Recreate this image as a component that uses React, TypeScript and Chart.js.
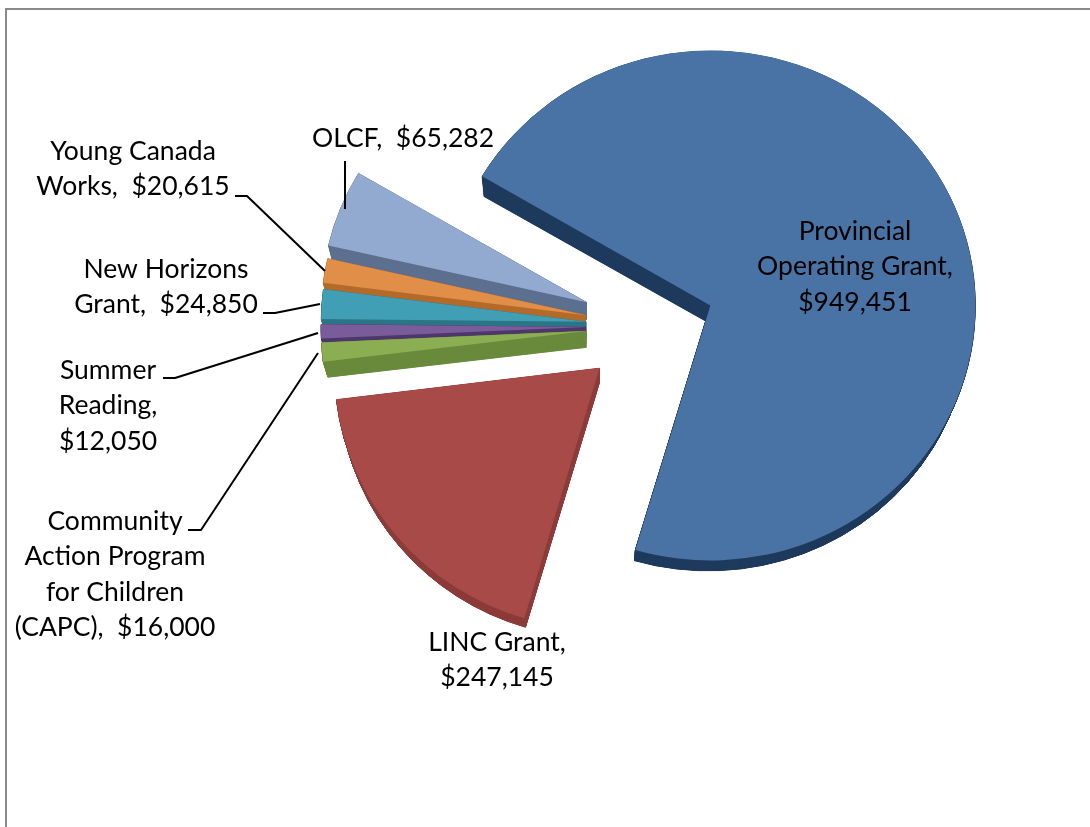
import React, { useEffect, useRef } from "react";
import { Chart, registerables } from "chart.js";

Chart.register(...registerables);

const categories = [
  "Provincial Operating Grant",
  "LINC Grant",
  "Community Action Program for Children (CAPC)",
  "Summer Reading",
  "New Horizons Grant",
  "Young Canada Works",
  "OLCF",
];
const amounts = [949451, 247145, 16000, 12050, 24850, 20615, 65282];
const faceColors = ["#4A73A5", "#A84B48", "#8BAE52", "#7A5C9A", "#419FB5", "#E08E48", "#93AAD0"];
const wallColors = ["#1F3B5E", "#8C3C3A", "#6A8A3C", "#4F376E", "#2B7687", "#B46B2A", "#5D7090"];

// How far each slice is pulled out of the pie, in pixels.
const explodeDistances = [66, 65, 63, 63, 63, 64, 67];

// Vertical foreshortening per slice and the line it pivots on: nearer slices look taller.
const sliceTilts = [0.962, 0.985, 0.96, 0.96, 0.96, 0.96, 0.96];
const tiltPivots = [400, 368.6, 326, 326, 326, 326, 326];

// Painted back to front so nearer slices cover the side walls of those behind them.
const paintOrder = [0, 6, 5, 4, 3, 2, 1];

const labelLines = [
  ["Provincial", "Operating Grant,", "$949,451"],
  ["LINC Grant,", "$247,145"],
  ["Community", "Action Program", "for Children", "(CAPC),  $16,000"],
  ["Summer", "Reading,", "$12,050"],
  ["New Horizons", "Grant,  $24,850"],
  ["Young Canada", "Works,  $20,615"],
  ["OLCF,  $65,282"],
];
const labelCentres = [
  [855, 231],
  [497, 642],
  [115, 521],
  [108, 370],
  [166, 269],
  [133, 151],
  [403, 138],
];
const leaderLines = [
  [[188, 530], [201, 530], [318, 353]],
  [[163, 378], [175, 378], [318, 333]],
  [[263, 313], [275, 313], [320, 304]],
  [[235, 196], [247, 196], [325, 271]],
  [[345, 161], [345, 209]],
];

const PIE_RADIUS = 265;
const DEPTH_LAYERS = 60;
const LABEL_FONT = '26.5px Lato, "Open Sans", sans-serif';
const LINE_HEIGHT = 35.5;

function tracePie(ctx: CanvasRenderingContext2D, arc: any) {
  const mid = (arc.startAngle + arc.endAngle) / 2;
  const shift = (arc.options.offset || 0) / 4;
  const cx = arc.x + Math.cos(mid) * shift;
  const cy = arc.y + Math.sin(mid) * shift;
  ctx.beginPath();
  ctx.moveTo(cx, cy);
  ctx.arc(cx, cy, arc.outerRadius, arc.startAngle, arc.endAngle);
  ctx.closePath();
}

// Squashes a slice vertically so the pie reads as lying slightly tilted.
function applyTilt(ctx: CanvasRenderingContext2D, i: number) {
  ctx.translate(0, tiltPivots[i]);
  ctx.scale(1, sliceTilts[i]);
  ctx.translate(0, -tiltPivots[i]);
}

// Side walls shrink toward a vanishing point below the pie.
function applyDepth(ctx: CanvasRenderingContext2D, t: number) {
  const vx = 590;
  const vy = 960;
  ctx.translate(vx, vy);
  ctx.scale(1 - 0.018 * t, 1 - 0.026 * t);
  ctx.translate(-vx, -vy);
}

const pie3d = {
  id: "pie3d",
  beforeDatasetsDraw(chart: any) {
    const { ctx } = chart;
    const arcs = chart.getDatasetMeta(0).data;
    for (const i of paintOrder) {
      const arc = arcs[i];
      ctx.fillStyle = wallColors[i];
      ctx.strokeStyle = wallColors[i];
      ctx.lineWidth = 0.8;
      ctx.lineJoin = "round";
      for (let layer = DEPTH_LAYERS; layer > 0; layer--) {
        ctx.save();
        applyDepth(ctx, layer / DEPTH_LAYERS);
        applyTilt(ctx, i);
        tracePie(ctx, arc);
        ctx.fill();
        ctx.stroke();
        ctx.restore();
      }
      ctx.save();
      applyTilt(ctx, i);
      tracePie(ctx, arc);
      ctx.fillStyle = arc.options.backgroundColor;
      ctx.fill();
      ctx.restore();
    }
    return false;
  },
  afterDraw(chart: any) {
    const { ctx } = chart;
    ctx.save();
    ctx.strokeStyle = "#000";
    ctx.lineWidth = 2;
    for (const line of leaderLines) {
      ctx.beginPath();
      line.forEach(([x, y], k) => (k ? ctx.lineTo(x, y) : ctx.moveTo(x, y)));
      ctx.stroke();
    }
    ctx.fillStyle = "#000";
    ctx.font = LABEL_FONT;
    ctx.textAlign = "center";
    ctx.textBaseline = "middle";
    labelLines.forEach((lines, i) => {
      const [x, y] = labelCentres[i];
      lines.forEach((text, k) => ctx.fillText(text, x, y + k * LINE_HEIGHT));
    });
    ctx.restore();
  },
};

export default function App() {
  const ref = useRef<HTMLCanvasElement | null>(null);
  useEffect(() => {
    document.body.style.margin = "0";
    const chart = new Chart(ref.current as HTMLCanvasElement, {
      type: "pie",
      data: {
        labels: categories,
        datasets: [
          {
            data: amounts,
            backgroundColor: faceColors,
            borderWidth: 0,
            offset: explodeDistances.map((d) => d * 4),
          },
        ],
      },
      options: {
        responsive: false,
        animation: false,
        rotation: 300.5,
        radius: PIE_RADIUS,
        layout: { padding: { left: 208, right: 0, top: 0, bottom: 175 } },
        plugins: { legend: { display: false }, tooltip: { enabled: false } },
      },
      plugins: [pie3d],
    } as any);
    return () => chart.destroy();
  }, []);
  return (
    <div style={{ position: "relative", width: 1090, height: 827, overflow: "hidden", background: "#fff" }}>
      <canvas ref={ref} width={1090} height={827} style={{ display: "block" }} />
      <div
        style={{
          position: "absolute",
          left: 5,
          top: 8,
          right: 0,
          bottom: 0,
          borderLeft: "2px solid #8a8a8a",
          borderTop: "2px solid #8a8a8a",
          pointerEvents: "none",
        }}
      />
    </div>
  );
}
